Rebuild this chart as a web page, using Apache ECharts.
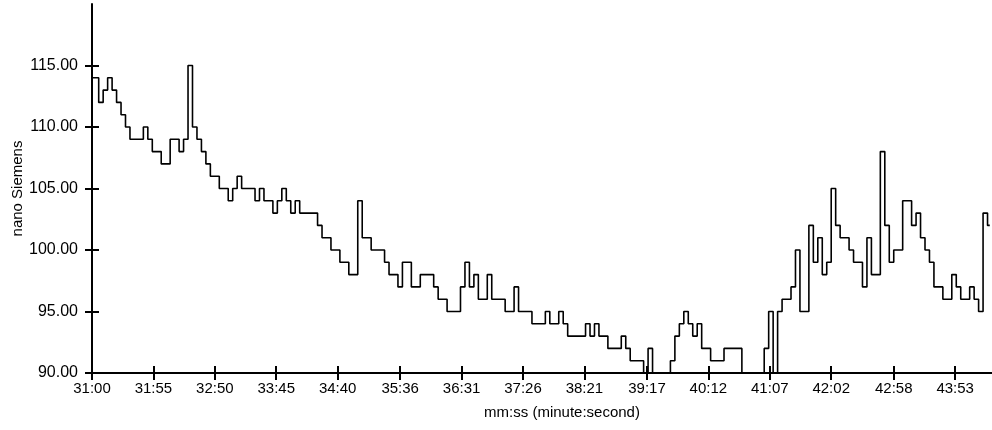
<!DOCTYPE html>
<html>
<head>
<meta charset="utf-8">
<script src="https://cdn.jsdelivr.net/npm/echarts@6/dist/echarts.min.js"></script>
<style>
  html, body { margin: 0; padding: 0; background: #fff; }
  #chart { width: 992px; height: 430px; }
</style>
</head>
<body>
<div id="chart"></div>
<script>
// Skin conductance recording, one reading every 4 seconds (nano Siemens)
const startTime = '31:00';
const endTime = '44:26';
const sampleStep = 4;
const conductance = [
  114,114,112,113,114,113,112,111,110,109,
  109,109,110,109,108,108,107,107,109,109,
  108,109,115,110,109,108,107,106,106,105,
  105,104,105,106,105,105,105,104,105,104,
  104,103,104,105,104,103,104,103,103,103,
  103,102,101,101,100,100,99,99,98,98,
  104,101,101,100,100,100,99,98,98,97,
  99,99,97,97,98,98,98,97,96,96,
  95,95,95,97,99,97,98,96,96,98,
  96,96,96,95,95,97,95,95,95,94,
  94,94,95,94,94,95,94,93,93,93,
  93,94,93,94,93,93,92,92,92,93,
  92,91,91,91,90,92,89,89,89,90,
  91,93,94,95,94,93,94,92,92,91,
  91,91,92,92,92,92,90,89,88,88,
  89,92,95,89,95,96,96,97,100,95,
  95,102,99,101,98,99,105,102,101,101,
  100,99,99,97,101,98,98,108,102,99,
  100,100,104,104,102,103,101,100,99,97,
  97,96,96,98,97,96,96,97,96,95,
  103,102
];
const xTickLabels = ['31:00','31:55','32:50','33:45','34:40','35:36','36:31','37:26',
                     '38:21','39:17','40:12','41:07','42:02','42:58','43:53'];
const yTickValues = [90, 95, 100, 105, 110, 115];
const yMin = 90, yMax = 120;

function toSeconds(label) {
  const [m, s] = label.split(':').map(Number);
  return m * 60 + s;
}
function toLabel(sec) {
  const t = Math.round(sec);
  return Math.floor(t / 60) + ':' + String(t % 60).padStart(2, '0');
}

const t0 = toSeconds(startTime);
const tEnd = toSeconds(endTime);
const xTicks = xTickLabels.map(toSeconds);
const points = conductance.map((v, i) => [t0 + i * sampleStep, v]);

const FONT = 'Liberation Sans, Arial, sans-serif';
const INK = '#000';

const chart = echarts.init(document.getElementById('chart'), null, { renderer: 'canvas' });
chart.setOption({
  animation: false,
  backgroundColor: '#fff',
  grid: { left: 92, right: 0, top: 4, bottom: 57, outerBoundsMode: 'none' },
  xAxis: [
    {
      type: 'value', min: t0, max: tEnd, position: 'bottom',
      name: 'mm:ss (minute:second)', nameLocation: 'middle', nameGap: 32,
      nameMoveOverlap: false,
      nameTextStyle: { fontFamily: FONT, fontSize: 15, color: INK, padding: [0, 0, 0, 40] },
      axisLine: { lineStyle: { color: INK, width: 2 } },
      axisTick: { customValues: xTicks, length: 7, lineStyle: { color: INK, width: 2 } },
      axisLabel: { customValues: xTicks, formatter: toLabel, margin: 8,
                   fontFamily: FONT, fontSize: 15, color: INK },
      splitLine: { show: false }
    },
    {
      type: 'value', min: t0, max: tEnd, position: 'bottom',
      axisLine: { show: false },
      axisTick: { customValues: xTicks, inside: true, length: 7, lineStyle: { color: INK, width: 2 } },
      axisLabel: { show: false },
      splitLine: { show: false }
    }
  ],
  yAxis: [
    {
      type: 'value', min: yMin, max: yMax, position: 'left',
      name: 'nano Siemens', nameLocation: 'middle', nameGap: 67,
      nameMoveOverlap: false,
      nameTextStyle: { fontFamily: FONT, fontSize: 15, color: INK },
      axisLine: { show: true, lineStyle: { color: INK, width: 2 } },
      axisTick: { show: true, customValues: yTickValues, length: 7, lineStyle: { color: INK, width: 2 } },
      axisLabel: { customValues: yTickValues, formatter: v => v.toFixed(2), margin: 14,
                   fontFamily: FONT, fontSize: 16, color: INK },
      splitLine: { show: false }
    },
    {
      type: 'value', min: yMin, max: yMax, position: 'left',
      axisLine: { show: false },
      axisTick: { show: true, customValues: yTickValues, inside: true, length: 7, lineStyle: { color: INK, width: 2 } },
      axisLabel: { show: false },
      splitLine: { show: false }
    }
  ],
  series: [{
    type: 'line',
    xAxisIndex: 0, yAxisIndex: 0,
    data: points,
    step: 'middle',
    showSymbol: false,
    clip: true,
    lineStyle: { color: INK, width: 1.6 }
  }]
});
</script>
</body>
</html>
